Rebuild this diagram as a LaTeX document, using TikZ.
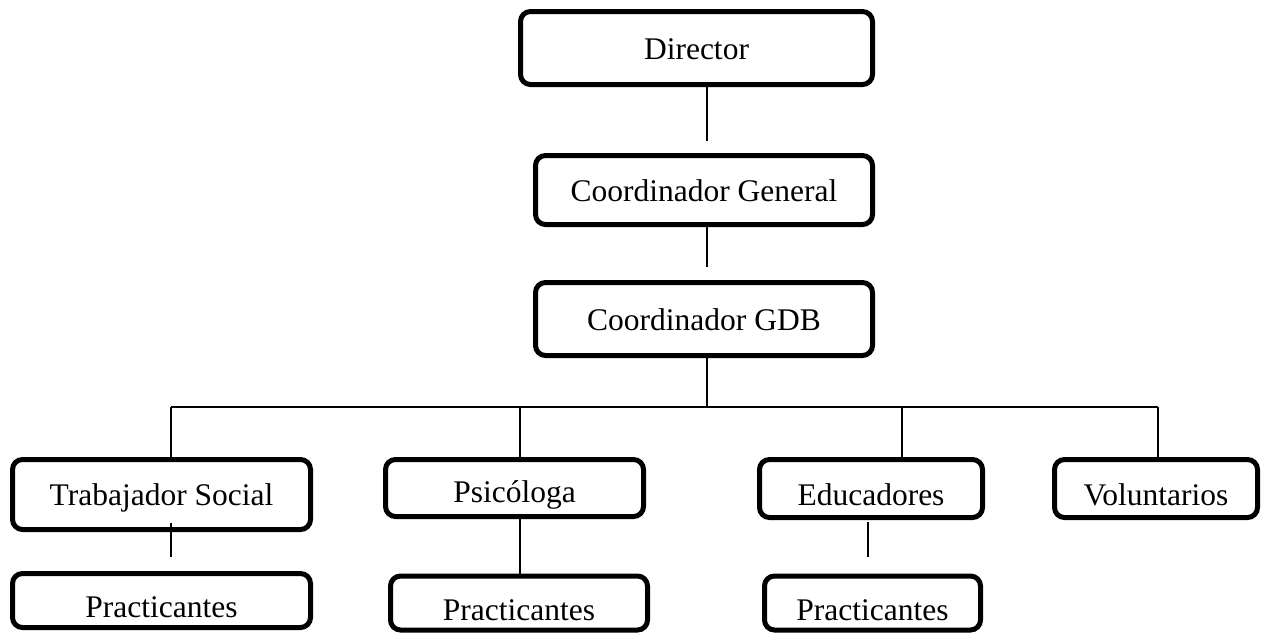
\documentclass[tikz,border=0pt]{standalone}
\usepackage{fontspec}
\setmainfont{Liberation Serif}
\begin{document}
\begin{tikzpicture}[x=1pt,y=-1pt,
  box/.style={draw, line width=5pt, rounded corners=10pt, inner sep=0pt,
    font=\fontsize{31.5pt}{36pt}\selectfont, text height=22pt, text depth=0pt},
  pbox/.style={box, text height=34pt},
  conn/.style={line width=1.6pt}]
\useasboundingbox (0,0) rectangle (1277,633);
% boxes
\node[box, minimum width=352pt, minimum height=73pt] (dir) at (696.5,48) {Director};
\node[box, minimum width=337pt, minimum height=69pt] (cg) at (704,190) {Coordinador General};
\node[box, minimum width=337pt, minimum height=73pt] (gdb) at (704,319) {Coordinador GDB};
\node[box, minimum width=298pt, minimum height=70pt] (ts) at (161.5,494.5) {Trabajador Social};
\node[box, text height=28pt, minimum width=258pt, minimum height=57pt] (ps) at (514.5,488) {Psicóloga};
\node[box, text height=33pt, minimum width=223pt, minimum height=58pt] (ed) at (871,488.5) {Educadores};
\node[box, text height=33pt, minimum width=203pt, minimum height=58pt] (vol) at (1156,488.5) {Voluntarios};
\node[pbox, minimum width=298pt, minimum height=54pt] (p1) at (161.5,600.5) {Practicantes};
\node[pbox, minimum width=257pt, minimum height=54pt] (p2) at (519,603) {Practicantes};
\node[pbox, minimum width=216pt, minimum height=54pt] (p3) at (872.5,603) {Practicantes};
% helper coordinates
\coordinate (trunk) at (707,407);
\coordinate (barL) at (171,407);
\coordinate (d2) at (520,407);
\coordinate (d3) at (902,407);
\coordinate (barR) at (1158,407);
\coordinate (edx) at (868,407);
% connectors
\draw[conn, shorten >=12.5pt] (dir.south -| trunk) -- (cg.north -| trunk);
\draw[conn, shorten >=13.5pt] (cg.south -| trunk) -- (gdb.north -| trunk);
\draw[conn] (gdb.south -| trunk) -- (trunk);
\draw[conn] (barL) -- (barR);
\draw[conn] (barL) -- (ts.north -| barL);
\draw[conn] (d2) -- (ps.north -| d2);
\draw[conn] (d3) -- (ed.north -| d3);
\draw[conn] (barR) -- (vol.north -| barR);
\draw[conn, shorten <=-9.5pt, shorten >=14.5pt] (ts.south -| barL) -- (p1.north -| barL);
\draw[conn] (ps.south -| d2) -- (p2.north -| d2);
\draw[conn, shorten <=2pt, shorten >=16.5pt] (ed.south -| edx) -- (p3.north -| edx);
\end{tikzpicture}
\end{document}
